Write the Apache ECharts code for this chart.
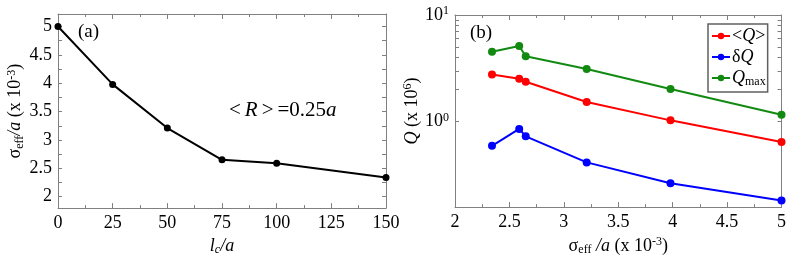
<!DOCTYPE html>
<html><head><meta charset="utf-8">
<script src="https://cdn.jsdelivr.net/npm/echarts@6/dist/echarts.min.js"></script>
<style>html,body{margin:0;padding:0;background:#fff}#c{width:789px;height:261px}</style>
</head><body><div id="c"></div>
<script>
// Panel (a)
const lcValues = [0, 25, 50, 75, 100, 150];
const sigmaEff = [5.0, 3.98, 3.21, 2.65, 2.59, 2.34];
const aYLabels = [2, 2.5, 3, 3.5, 4, 4.5, 5];
const aYTicks = [2, 2.25, 2.5, 2.75, 3, 3.25, 3.5, 3.75, 4, 4.25, 4.5, 4.75, 5];
// Panel (b)
const bSigma = [2.34, 2.59, 2.65, 3.21, 3.98, 5.0];
const qMean = [2.77, 2.53, 2.37, 1.53, 1.03, 0.647];
const qDelta = [0.594, 0.856, 0.729, 0.416, 0.265, 0.183];
const qMax = [4.52, 5.13, 4.10, 3.12, 2.03, 1.16];
const bYLabels = [1, 10];
const bYTicks = [1, 2, 3, 4, 5, 6, 7, 8, 9, 10];

const FONT = 'Liberation Serif';
const AX = '#808080';
const chart = echarts.init(document.getElementById('c'));
const pairs = (xs, ys) => xs.map((x, i) => [x, ys[i]]);
const txt = {fontFamily: FONT, fontSize: 18, color: '#000'};
const richName = {
  n: {fontFamily: FONT, fontSize: 18, color: '#000'},
  i: {fontFamily: FONT, fontSize: 18, fontStyle: 'italic', color: '#000'},
  sub: {fontFamily: FONT, fontSize: 12, color: '#000', verticalAlign: 'bottom', padding: [8, 0, 0, 0]},
  isub: {fontFamily: FONT, fontSize: 12, fontStyle: 'italic', color: '#000', verticalAlign: 'bottom', padding: [8, 0, 0, 0]},
  sup: {fontFamily: FONT, fontSize: 12, color: '#000', verticalAlign: 'top', padding: [0, 0, 8, 0]}
};
const frameAxis = (extra) => Object.assign({
  axisLine: {show: true, onZero: false, lineStyle: {color: AX, width: 1}},
  axisTick: {show: true, inside: true, length: 5, lineStyle: {color: AX}},
  axisLabel: {show: false},
  splitLine: {show: false}
}, extra);
const minorX = {show: true, splitNumber: 2, length: 3, lineStyle: {color: AX}};

const option = {
  animation: false,
  grid: [
    {left: 58, right: 403, top: 14, bottom: 51},
    {left: 455, right: 7, top: 15, bottom: 50}
  ],
  xAxis: [
    frameAxis({gridIndex: 0, type: 'value', min: 0, max: 150, interval: 25, position: 'bottom', minorTick: minorX,
      axisLabel: Object.assign({show: true, margin: 6}, txt),
      name: '{i|l}{isub|c}{i|/a}', nameLocation: 'middle', nameGap: 24,
      nameTextStyle: {rich: richName}}),
    frameAxis({gridIndex: 0, type: 'value', min: 0, max: 150, interval: 25, position: 'top', minorTick: minorX}),
    frameAxis({gridIndex: 1, type: 'value', min: 2, max: 5, interval: 0.5, position: 'bottom', minorTick: minorX,
      axisLabel: Object.assign({show: true, margin: 6}, txt),
      name: '{n|σ}{sub|eff}{n| }{i|/a}{n| (x 10}{sup|-3}{n|)}', nameLocation: 'middle', nameGap: 24,
      nameTextStyle: {rich: richName}}),
    frameAxis({gridIndex: 1, type: 'value', min: 2, max: 5, interval: 0.5, position: 'top', minorTick: minorX})
  ],
  yAxis: [
    frameAxis({gridIndex: 0, type: 'value', min: 1.8, max: 5.22, position: 'left',
      axisTick: {show: true, inside: true, length: 4, lineStyle: {color: AX}, customValues: aYTicks},
      axisLabel: Object.assign({show: true, margin: 6, customValues: aYLabels}, txt),
      name: '{n|σ}{sub|eff}{i|/a}{n| (x 10}{sup|-3}{n|)}', nameLocation: 'middle', nameGap: 30, nameRotate: 90,
      nameTextStyle: {rich: richName}}),
    frameAxis({gridIndex: 0, type: 'value', min: 1.8, max: 5.22, position: 'right',
      axisTick: {show: true, inside: true, length: 4, lineStyle: {color: AX}, customValues: aYTicks}}),
    frameAxis({gridIndex: 1, type: 'log', logBase: 10, min: 0.1585, max: 10, position: 'left',
      axisTick: {show: true, inside: true, length: 4, lineStyle: {color: AX}, customValues: bYTicks},
      axisLabel: Object.assign({show: true, margin: 6, customValues: bYLabels,
        formatter: v => '{n|10}{sup|' + Math.round(Math.log10(v)) + '}', rich: richName}, txt),
      name: '{i|Q}{n| (x 10}{sup|6}{n|)}', nameLocation: 'middle', nameGap: 28, nameRotate: 90,
      nameTextStyle: {rich: richName}}),
    frameAxis({gridIndex: 1, type: 'log', logBase: 10, min: 0.1585, max: 10, position: 'right',
      axisTick: {show: true, inside: true, length: 4, lineStyle: {color: AX}, customValues: bYTicks}})
  ],
  legend: {
    left: 708, top: 24, orient: 'vertical', itemGap: 3, itemWidth: 18, itemHeight: 8,
    padding: [3, 2, 4, 3], borderColor: '#606060', borderWidth: 1.5, backgroundColor: '#fff',
    data: ['mean', 'delta', 'max'],
    formatter: n => ({mean: '{n|<}{i|Q}{n|>}', delta: '{n|δ}{i|Q}', max: '{i|Q}{sub|max}'})[n],
    textStyle: {rich: richName, padding: [0, 0, 0, -3]}
  },
  graphic: [
    {type: 'text', left: 78, top: 23, style: {text: '(a)', font: '19px "Liberation Serif"', fill: '#000'}},
    {type: 'text', left: 470, top: 24, style: {text: '(b)', font: '19px "Liberation Serif"', fill: '#000'}},
    {type: 'text', left: 229, top: 100, style: {
      text: '{b|<}{i|R}{b|>}{n|=0.25}{i|a}',
      rich: {
        b: {fontFamily: FONT, fontSize: 21, fill: '#000', padding: [0, 4, 0, 4]},
        n: {fontFamily: FONT, fontSize: 21, fill: '#000'},
        i: {fontFamily: FONT, fontSize: 21, fontStyle: 'italic', fill: '#000'}}}}
  ],
  series: [
    {type: 'line', xAxisIndex: 0, yAxisIndex: 0, data: pairs(lcValues, sigmaEff),
      symbol: 'circle', symbolSize: 7, lineStyle: {color: '#000', width: 2}, itemStyle: {color: '#000'}},
    {name: 'mean', type: 'line', xAxisIndex: 2, yAxisIndex: 2, data: pairs(bSigma, qMean),
      symbol: 'circle', symbolSize: 8, lineStyle: {color: '#ff0000', width: 2}, itemStyle: {color: '#ff0000'}},
    {name: 'delta', type: 'line', xAxisIndex: 2, yAxisIndex: 2, data: pairs(bSigma, qDelta),
      symbol: 'circle', symbolSize: 8, lineStyle: {color: '#0000ff', width: 2}, itemStyle: {color: '#0000ff'}},
    {name: 'max', type: 'line', xAxisIndex: 2, yAxisIndex: 2, data: pairs(bSigma, qMax),
      symbol: 'circle', symbolSize: 8, lineStyle: {color: '#128a12', width: 2}, itemStyle: {color: '#128a12'}}
  ]
};
chart.setOption(option);
</script></body></html>
